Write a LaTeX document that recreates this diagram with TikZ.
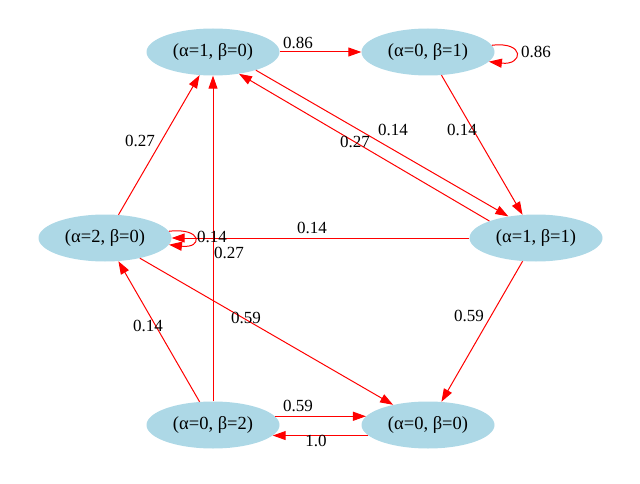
\documentclass[tikz,border=0pt]{standalone}
\usepackage{fontspec}
\setmainfont{Liberation Serif}
\usetikzlibrary{shapes.geometric,arrows.meta}
\definecolor{nodeblue}{HTML}{ADD8E6}
\definecolor{edgered}{HTML}{FF0000}
\begin{document}
\begin{tikzpicture}[x=1pt,y=-1pt,
  state/.style={ellipse, fill=nodeblue, minimum width=133pt, minimum height=47pt, inner sep=0pt, font=\fontsize{18.5}{21}\selectfont},
  lbl/.style={font=\fontsize{17}{20}\selectfont, inner sep=0pt},
  edge/.style={draw=edgered, line width=1pt, -{Triangle[length=13pt,width=9pt]}}]
\useasboundingbox (0,0) rectangle (640,484);
\node[state] (A) at (213,52) {(α=1, β=0)};
\node[state] (B) at (428,52) {(α=0, β=1)};
\node[state] (C) at (105,238) {(α=2, β=0)};
\node[state] (D) at (536,238) {(α=1, β=1)};
\node[state] (E) at (213,425) {(α=0, β=2)};
\node[state] (F) at (428,425) {(α=0, β=0)};

\draw[edge] (A) -- (B);
\draw[edge] (B.6) .. controls +(34,-4) and +(34,4) .. (B.-9);
\draw[edge] (B) -- (D);
\draw[edge] (A.-23) -- (D.142);
\draw[edge] (D.160) -- (A.-40);
\draw[edge] (D) -- (C);
\draw[edge] (C.6) .. controls +(34,-4) and +(34,4) .. (C.-6);
\draw[edge] (C) -- (A);
\draw[edge] (E) -- (A);
\draw[edge] (E) -- (C);
\draw[edge] (C) -- (F);
\draw[edge] (D) -- (F);
\draw[edge] (E.8) -- (F.172);
\draw[edge] (F.-170) -- (E.-10);

\node[lbl] (lAB) at (298,43) {0.86};
\node[lbl] (lBB) at (536,52) {0.86};
\node[lbl] (lBD) at (462,130) {0.14};
\node[lbl] (lAD) at (393,130) {0.14};
\node[lbl] (lDA) at (355,142) {0.27};
\node[lbl] (lDC) at (312,228) {0.14};
\node[lbl] (lCA) at (140,141) {0.27};
\node[lbl] (lCC) at (212,237) {0.14};
\node[lbl] (lEA) at (229,253) {0.27};
\node[lbl] (lEC) at (148,326) {0.14};
\node[lbl] (lCF) at (246,318) {0.59};
\node[lbl] (lDF) at (469,316) {0.59};
\node[lbl] (lEF) at (298,406) {0.59};
\node[lbl] (lFE) at (316,441) {1.0};
\end{tikzpicture}
\end{document}
